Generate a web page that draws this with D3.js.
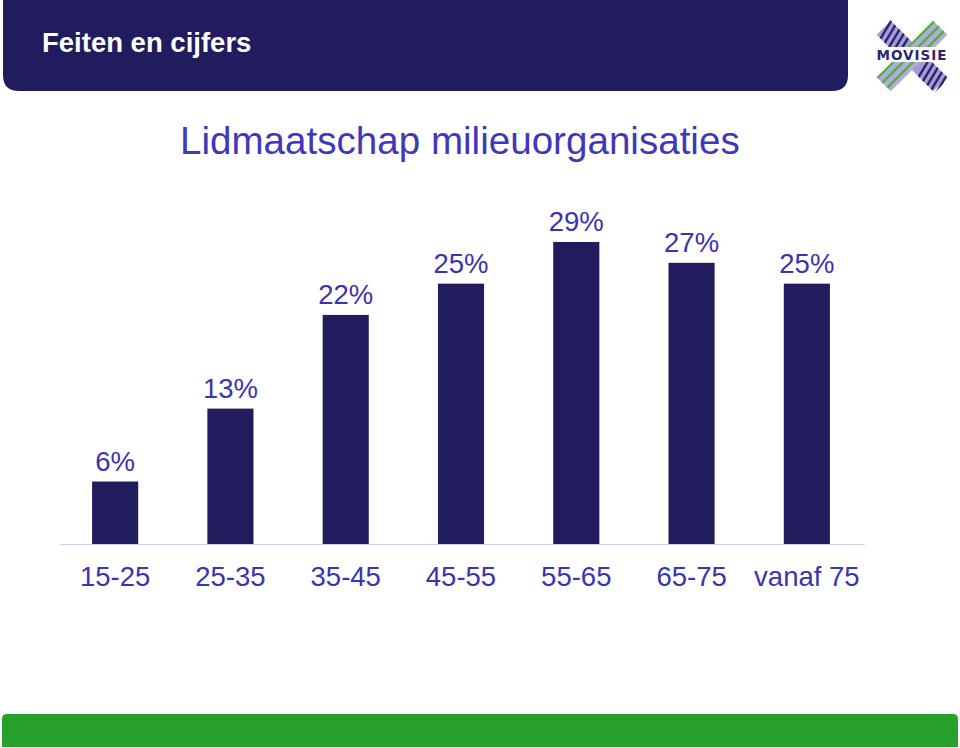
<!DOCTYPE html>
<html>
<head>
<meta charset="utf-8">
<script src="https://cdn.jsdelivr.net/npm/d3@7"></script>
<style>
html,body{margin:0;padding:0;background:#fff;}
svg{display:block;}
</style>
</head>
<body>
<script>
const categories = ["15-25","25-35","35-45","45-55","55-65","65-75","vanaf 75"];
const values = [6,13,22,25,29,27,25];
const valueLabels = ["6%","13%","22%","25%","29%","27%","25%"];
const headerTitle = "Feiten en cijfers";
const chartTitle = "Lidmaatschap milieuorganisaties";

const W = 960, H = 748;
const svg = d3.select("body").append("svg").attr("width", W).attr("height", H);
const font = "Liberation Sans, Arial, Helvetica, sans-serif";

// header band with rounded bottom corners
const hx0 = 3, hx1 = 848, hy0 = 0, hy1 = 91, r = 16;
svg.append("path")
  .attr("d", `M${hx0},${hy0} H${hx1} V${hy1-r} Q${hx1},${hy1} ${hx1-r},${hy1} H${hx0+r} Q${hx0},${hy1} ${hx0},${hy1-r} Z`)
  .attr("fill", "#201c5e");
svg.append("text").attr("x", 42).attr("y", 52)
  .attr("font-family", font).attr("font-weight", "bold").attr("font-size", 27.5)
  .attr("fill", "#ffffff").text(headerTitle);

// logo
const logo = svg.append("g").attr("transform", "translate(912,56)");
const defs = svg.append("defs");
defs.append("clipPath").attr("id", "bandA").append("rect")
  .attr("x", -42).attr("y", -10).attr("width", 84).attr("height", 20).attr("transform", "rotate(45)");
defs.append("clipPath").attr("id", "bandB").append("rect")
  .attr("x", -42).attr("y", -10).attr("width", 84).attr("height", 20).attr("transform", "rotate(-45)");
logo.append("rect").attr("x", -40).attr("y", -10).attr("width", 80).attr("height", 20)
  .attr("transform", "rotate(45)").attr("fill", "#a79bd6");
logo.append("rect").attr("x", -40).attr("y", -10).attr("width", 80).attr("height", 20)
  .attr("transform", "rotate(-45)").attr("fill", "#b3aade");
const gB = logo.append("g").attr("clip-path", "url(#bandB)");
d3.range(-44, 46, 7).forEach(t => {
  gB.append("line").attr("x1", t).attr("y1", -40).attr("x2", t).attr("y2", 40)
    .attr("transform", "rotate(-45) rotate(90)")
    .attr("stroke", "#52b43c").attr("stroke-width", 2.6);
});
const gA = logo.append("g").attr("clip-path", "url(#bandA)");
d3.range(-40, -14, 6).concat(d3.range(14, 40, 6)).forEach(t => {
  gA.append("line").attr("x1", t).attr("y1", -12).attr("x2", t + 6).attr("y2", 12)
    .attr("transform", "rotate(45)")
    .attr("stroke", "#2a2570").attr("stroke-width", 2.4);
});
logo.append("rect").attr("x", -39).attr("y", -9).attr("width", 78).attr("height", 15).attr("fill", "#ffffff");
logo.append("text").attr("x", 0).attr("y", 3.5).attr("text-anchor", "middle")
  .attr("font-family", "DejaVu Sans, sans-serif").attr("font-weight", "bold").attr("font-size", 13.5)
  .attr("letter-spacing", 1).attr("fill", "#2a2570").text("MOVISIE");

// chart title
svg.append("text").attr("x", 180).attr("y", 154)
  .attr("font-family", font).attr("font-size", 38.6)
  .attr("fill", "#4038b8").text(chartTitle);

// chart
const baseY = 544;
const x = d3.scaleBand().domain(categories).range([57.5, 864.5]).paddingInner(0.6).paddingOuter(0.3);
const y = d3.scaleLinear().domain([0, 29]).range([baseY, 242]);

svg.append("line").attr("x1", 60).attr("x2", 865).attr("y1", baseY + 0.5).attr("y2", baseY + 0.5)
  .attr("stroke", "#d0cfe8").attr("stroke-width", 1);

svg.selectAll("rect.bar").data(values).enter().append("rect").attr("class", "bar")
  .attr("x", (d, i) => x(categories[i]))
  .attr("y", d => y(d))
  .attr("width", x.bandwidth())
  .attr("height", d => baseY - y(d))
  .attr("fill", "#201c5e");

svg.selectAll("text.val").data(values).enter().append("text").attr("class", "val")
  .attr("x", (d, i) => x(categories[i]) + x.bandwidth() / 2)
  .attr("y", d => y(d) - 11)
  .attr("text-anchor", "middle")
  .attr("font-family", font).attr("font-size", 27.5)
  .attr("fill", "#3a34b0")
  .text((d, i) => valueLabels[i]);

const xAxis = d3.axisBottom(x).tickSize(0).tickPadding(0);
const ax = svg.append("g").attr("transform", `translate(0,${baseY})`).call(xAxis);
ax.select(".domain").remove();
ax.selectAll("text").attr("dy", null).attr("y", 42)
  .attr("font-family", font).attr("font-size", 27.5).attr("fill", "#3a34b0");

// bottom green bar
const gx0 = 2, gx1 = 958, gy0 = 714, gy1 = 747, gr = 5;
svg.append("path")
  .attr("d", `M${gx0},${gy1} V${gy0+gr} Q${gx0},${gy0} ${gx0+gr},${gy0} H${gx1-gr} Q${gx1},${gy0} ${gx1},${gy0+gr} V${gy1} Z`)
  .attr("fill", "#27a02e");
</script>
</body>
</html>
